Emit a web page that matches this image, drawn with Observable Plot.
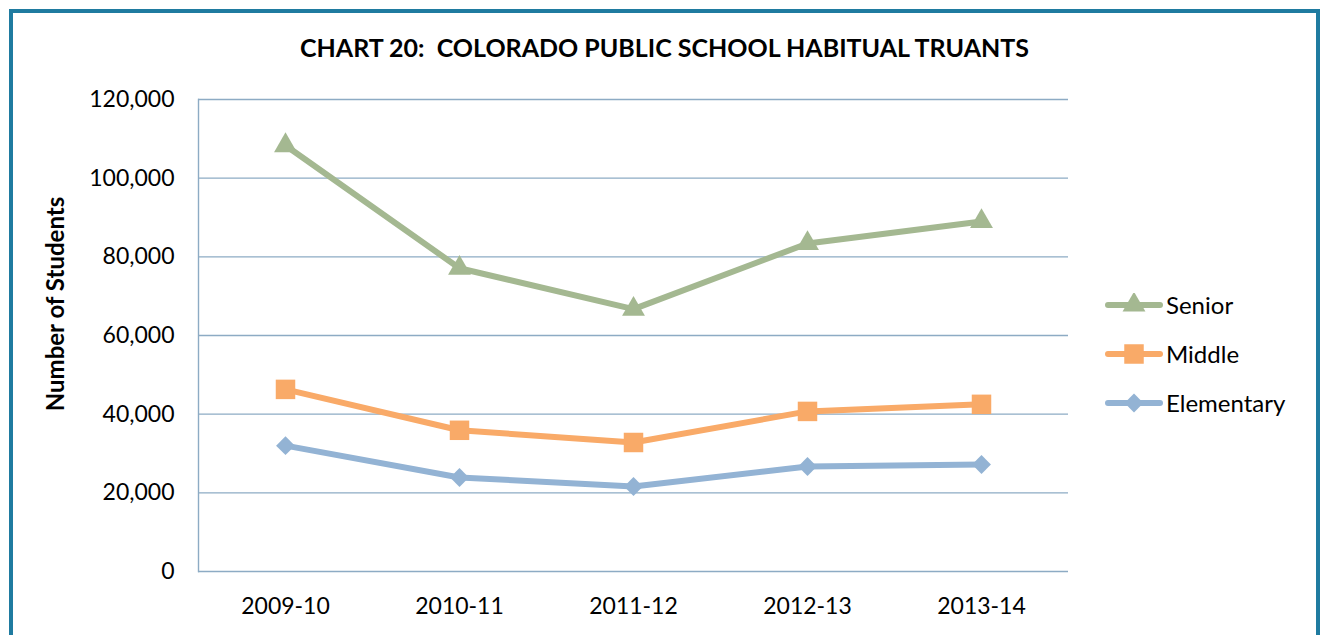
<!DOCTYPE html>
<html>
<head>
<meta charset="utf-8">
<script src="https://cdn.jsdelivr.net/npm/d3@7"></script>
<script src="https://cdn.jsdelivr.net/npm/@observablehq/plot@0.6"></script>
<style>
  html, body { margin: 0; padding: 0; background: #fff; overflow: hidden; }
  #frame {
    position: absolute; left: 9px; top: 9px; width: 1303px; height: 700px;
    border: 4px solid #1f7ba0; border-bottom: none; box-sizing: content-box;
  }
  #title {
    position: absolute; left: 0; top: 32px; width: 1329px; text-align: center;
    font-family: Lato, sans-serif; font-weight: bold; font-size: 25px; color: #000;
  }
  #ylabel {
    position: absolute; left: 54px; top: 304px; transform: translate(-50%, -50%) rotate(-90deg);
    font-family: Lato, sans-serif; font-weight: bold; font-size: 24px; color: #000; white-space: nowrap;
  }
  #chart { position: absolute; left: 0; top: 0; }
  #legend { position: absolute; left: 1105px; top: 280px; font-family: Lato, sans-serif; font-size: 24px; color: #000; }
  .item { display: flex; align-items: center; height: 49px; }
  .item svg { margin-right: 3px; }
</style>
</head>
<body>
<div id="frame"></div>
<div id="title">CHART 20:&nbsp; COLORADO PUBLIC SCHOOL HABITUAL TRUANTS</div>
<div id="ylabel">Number of Students</div>
<div id="chart"></div>
<div id="legend"></div>
<script>
const years = ["2009-10", "2010-11", "2011-12", "2012-13", "2013-14"];
const senior = [108300, 77100, 66700, 83400, 89000];
const middle = [46300, 35900, 32800, 40700, 42500];
const elementary = [32000, 23900, 21600, 26700, 27200];
const seriesNames = ["Senior", "Middle", "Elementary"];
const seriesColors = ["#a4b891", "#f9aa68", "#93b3d4"];
const seriesSymbols = ["triangle", "square", "diamond2"];
const seriesR = [8.5, 11, 8.5];
const yTicks = [0, 20000, 40000, 60000, 80000, 100000, 120000];

const valuesBySeries = [senior, middle, elementary];
const data = [];
seriesNames.forEach((s, i) => years.forEach((y, j) => data.push({series: s, year: y, value: valuesBySeries[i][j]})));

const fmt = d3.format(",");
const plot = Plot.plot({
  width: 1321,
  height: 635,
  marginLeft: 198,
  marginRight: 253,
  marginTop: 99,
  marginBottom: 64,
  style: {fontFamily: "Lato, sans-serif", fontSize: "23px", color: "#000", background: "transparent"},
  x: {type: "point", domain: years, padding: 0.5},
  y: {domain: [0, 120000]},
  color: {domain: seriesNames, range: seriesColors},
  symbol: {domain: seriesNames, range: seriesSymbols},
  marks: [
    Plot.ruleY(yTicks, {stroke: "#8dabc4", strokeWidth: 1.4}),
    Plot.frame({anchor: "left", stroke: "#8dabc4", strokeWidth: 1.4}),
    Plot.axisY({ticks: yTicks, tickSize: 0, tickPadding: 24, tickFormat: fmt, label: null, fontSize: 23}),
    Plot.axisX({tickSize: 0, tickPadding: 26, label: null, fontSize: 23}),
    Plot.line(data, {x: "year", y: "value", z: "series", stroke: "series", strokeWidth: 6}),
    ...seriesNames.map((s, i) => Plot.dot(data.filter(d => d.series === s), {x: "year", y: "value", symbol: "series", fill: "series", r: seriesR[i], stroke: "none"}))
  ]
});
document.getElementById("chart").appendChild(plot);

// legend
const legend = document.getElementById("legend");
seriesNames.forEach((s, i) => {
  const item = document.createElement("div");
  item.className = "item";
  const sym = d3.symbol(d3["symbol" + {triangle: "Triangle", square: "Square", diamond2: "Diamond2"}[seriesSymbols[i]]], Math.PI * seriesR[i] * seriesR[i])();
  item.innerHTML = `<svg width="58" height="24"><line x1="3" x2="55" y1="12" y2="12" stroke="${seriesColors[i]}" stroke-width="6" stroke-linecap="round"/><path transform="translate(29,12)" d="${sym}" fill="${seriesColors[i]}"/></svg><span>${s}</span>`;
  legend.appendChild(item);
});
</script>
</body>
</html>
